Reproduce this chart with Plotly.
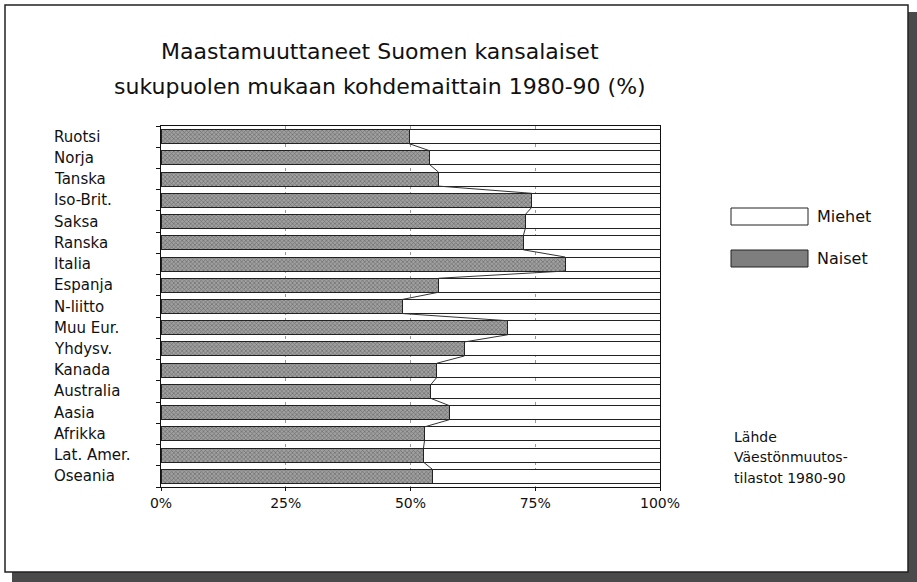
import plotly.graph_objects as go

categories = ["Ruotsi", "Norja", "Tanska", "Iso-Brit.", "Saksa", "Ranska", "Italia",
              "Espanja", "N-liitto", "Muu Eur.", "Yhdysv.", "Kanada", "Australia",
              "Aasia", "Afrikka", "Lat. Amer.", "Oseania"]
naiset = [49.7, 53.9, 55.6, 74.3, 73.0, 72.6, 81.0, 55.6, 48.3, 69.5, 60.8, 55.3,
          54.1, 57.8, 52.8, 52.6, 54.4]
miehet = [50.3, 46.1, 44.4, 25.7, 27.0, 27.4, 19.0, 44.4, 51.7, 30.5, 39.2, 44.7,
          45.9, 42.2, 47.2, 47.4, 45.6]
x_ticks = [0, 25, 50, 75, 100]
x_tick_labels = ["0%", "25%", "50%", "75%", "100%"]
title_lines = ["Maastamuuttaneet Suomen kansalaiset",
               "sukupuolen mukaan kohdemaittain 1980-90 (%)"]
source_lines = ["Lähde", "Väestönmuutos-", "tilastot 1980-90"]

W, H = 917, 582
# plot area in reference pixels
PX0, PX1, PY0, PY1 = 161, 660, 126, 487
L, T = PX0, PY0
R, B = W - PX1, H - PY1
pw, ph = PX1 - PX0, PY1 - PY0
FONT = "'DejaVu Sans', sans-serif"
BW = 0.66

def px(x):
    return (x - PX0) / pw

def py(y):
    return (PY1 - y) / ph

ypos = list(range(len(categories)))

fig = go.Figure()
fig.add_trace(go.Bar(
    y=ypos, x=naiset, orientation="h", width=BW, name="Naiset",
    marker=dict(color="#8c8c8c", line=dict(color="#222", width=1),
                pattern=dict(shape="x", size=3, solidity=0.4, fgcolor="#383838",
                             bgcolor="#a0a0a0")),
    showlegend=False))
fig.add_trace(go.Bar(
    y=ypos, x=miehet, orientation="h", width=BW, name="Miehet",
    marker=dict(color="white", line=dict(color="#222", width=1)),
    showlegend=False))

# series lines connecting bar ends
sx, sy = [], []
for i in range(len(naiset) - 1):
    sx += [naiset[i], naiset[i + 1], None]
    sy += [i + BW / 2, i + 1 - BW / 2, None]
fig.add_trace(go.Scatter(x=sx, y=sy, mode="lines", line=dict(color="#333", width=1),
                         showlegend=False, hoverinfo="skip"))

fig.update_layout(
    barmode="stack",
    width=W, height=H, margin=dict(l=L, r=R, t=T, b=B),
    paper_bgcolor="white", plot_bgcolor="white",
    font=dict(family=FONT, color="#111"),
    xaxis=dict(range=[0, 100], tickvals=x_ticks, ticktext=x_tick_labels,
               showgrid=True, gridcolor="#999", griddash="dot", gridwidth=1,
               showline=True, linecolor="#111", linewidth=1, mirror=True,
               ticks="outside", ticklen=3, tickcolor="#111",
               tickfont=dict(size=14, family=FONT), zeroline=False),
    yaxis=dict(range=[len(categories) - 0.5, -0.5],
               tickvals=[i + 0.5 for i in range(-1, len(categories))],
               showticklabels=False, ticks="outside", ticklen=4, tickcolor="#111",
               showgrid=False, zeroline=False,
               showline=True, linecolor="#111", linewidth=1, mirror=True),
)

shapes = [
    # drop shadow
    dict(type="rect", xref="paper", yref="paper", x0=px(12), x1=px(930), y0=py(595), y1=py(12),
         fillcolor="#4a4a4a", line=dict(width=0), layer="below"),
    # frame
    dict(type="rect", xref="paper", yref="paper", x0=px(5), x1=px(908), y0=py(572), y1=py(5),
         fillcolor="white", line=dict(color="#222", width=1.5), layer="below"),
    # legend swatches
    dict(type="rect", xref="paper", yref="paper", x0=px(731), x1=px(808), y0=py(225), y1=py(208),
         fillcolor="white", line=dict(color="#222", width=1)),
    dict(type="rect", xref="paper", yref="paper", x0=px(731), x1=px(808), y0=py(267), y1=py(250),
         fillcolor="#7e7e7e", line=dict(color="#222", width=1)),
]
fig.update_layout(shapes=shapes)

ann = []
ann.append(dict(text=title_lines[0], x=px(380), y=py(52), xref="paper", yref="paper",
                showarrow=False, xanchor="center", yanchor="middle",
                font=dict(size=22, family=FONT)))
ann.append(dict(text=title_lines[1], x=px(380), y=py(87), xref="paper", yref="paper",
                showarrow=False, xanchor="center", yanchor="middle",
                font=dict(size=22, family=FONT)))
for i, c in enumerate(categories):
    ann.append(dict(text=c, x=px(52), y=i, xref="paper", yref="y", showarrow=False,
                    xanchor="left", yanchor="middle", font=dict(size=15, family=FONT)))
ann.append(dict(text="Miehet", x=px(815), y=py(216), xref="paper", yref="paper",
                showarrow=False, xanchor="left", yanchor="middle", font=dict(size=16, family=FONT)))
ann.append(dict(text="Naiset", x=px(815), y=py(258), xref="paper", yref="paper",
                showarrow=False, xanchor="left", yanchor="middle", font=dict(size=16, family=FONT)))
for j, (t, yy) in enumerate(zip(source_lines, [437, 457, 478])):
    ann.append(dict(text=t, x=px(732), y=py(yy), xref="paper", yref="paper",
                    showarrow=False, xanchor="left", yanchor="middle",
                    font=dict(size=14, family=FONT)))
fig.update_layout(annotations=ann)

fig.write_html("out.html", config={"displayModeBar": False},
               post_script="document.body.style.margin='0';document.body.style.overflow='hidden';")
